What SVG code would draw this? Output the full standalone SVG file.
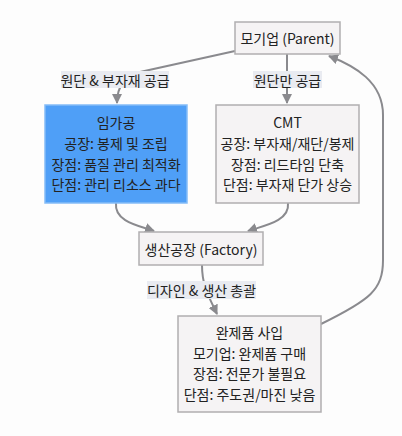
<svg xmlns="http://www.w3.org/2000/svg" width="402" height="436" viewBox="0 0 402 436">
<defs>
<style>
text{font-family:"Noto Sans CJK KR","Noto Sans",sans-serif;font-size:14px;fill:#222;text-anchor:middle;dominant-baseline:central}
.box{fill:#f5f3f4;stroke:#b0aeb0;stroke-width:1.5}
.blue{fill:#4f9ff7;stroke:#84bcf7;stroke-width:1.5}
.edge{fill:none;stroke:#8a8a8e;stroke-width:2}
.lbl{fill:#e9ebf1}
</style>
<marker id="ah" viewBox="0 0 10 10" refX="9" refY="5" markerWidth="5" markerHeight="5" orient="auto-start-reverse" markerUnits="strokeWidth">
<path d="M0,0 L10,5 L0,10 z" fill="#8a8a8e"/>
</marker>
</defs>
<rect width="402" height="436" fill="#fdfdfd"/>
<g id="connectors">
<path class="edge" d="M235,51 L140,72 Q117,78 117,103" marker-end="url(#ah)"/>
<path class="edge" d="M287,54 L287,103" marker-end="url(#ah)"/>
<path class="edge" d="M116,203 C114,222 140,226 154,231" marker-end="url(#ah)"/>
<path class="edge" d="M288,203 C290,222 262,226 248,231" marker-end="url(#ah)"/>
<path class="edge" d="M202,265 C202,285 208,295 217,314" marker-end="url(#ah)"/>
<path class="edge" d="M321,324 C370,300 383,290 383,260 L383,115 C383,82 355,66 329,56" marker-end="url(#ah)"/>
<rect class="lbl" x="61" y="71" width="108" height="17"/>
<text x="115" y="79.5">원단 &amp; 부자재 공급</text>
<rect class="lbl" x="253" y="71" width="69" height="17"/>
<text x="287.5" y="79.5">원단만 공급</text>
<rect class="lbl" x="147" y="281" width="109" height="18"/>
<text x="201.5" y="290">디자인 &amp; 생산 총괄</text>
</g>
<g id="parent">
<rect class="box" x="235" y="22" width="105" height="32"/>
<text x="287.5" y="38">모기업 (Parent)</text>
</g>
<g id="imgagong">
<rect class="blue" x="45" y="105" width="142" height="98"/>
<text x="116" y="122">임가공</text>
<text x="116" y="143">공장: 봉제 및 조립</text>
<text x="116" y="163.5">장점: 품질 관리 최적화</text>
<text x="116" y="184">단점: 관리 리소스 과다</text>
</g>
<g id="cmt">
<rect class="box" x="216" y="105" width="143" height="98"/>
<text x="287.5" y="122">CMT</text>
<text x="287.5" y="143">공장: 부자재/재단/봉제</text>
<text x="287.5" y="163.5">장점: 리드타임 단축</text>
<text x="287.5" y="184">단점: 부자재 단가 상승</text>
</g>
<g id="factory">
<rect class="box" x="139" y="232" width="124" height="33"/>
<text x="201" y="248.5">생산공장 (Factory)</text>
</g>
<g id="final">
<rect class="box" x="178" y="316" width="143" height="96"/>
<text x="249.5" y="332">완제품 사입</text>
<text x="249.5" y="353">모기업: 완제품 구매</text>
<text x="249.5" y="373">장점: 전문가 불필요</text>
<text x="249.5" y="394">단점: 주도권/마진 낮음</text>
</g>
</svg>
